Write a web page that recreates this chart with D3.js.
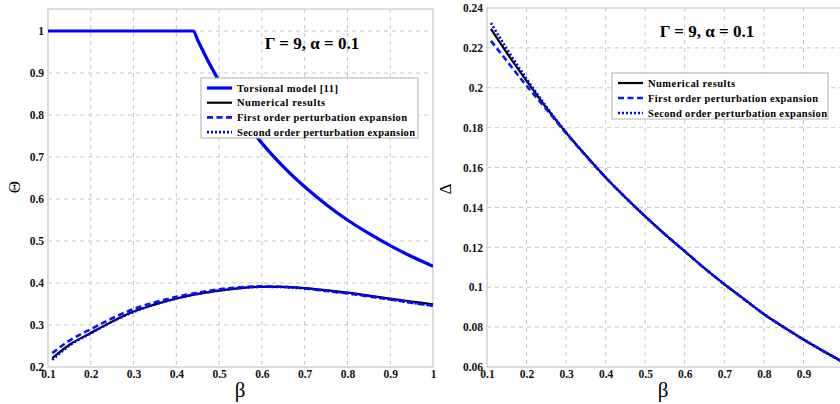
<!DOCTYPE html>
<html><head><meta charset="utf-8">
<script src="https://cdn.jsdelivr.net/npm/d3@7"></script>
<style>
body{margin:0;background:#fff;}
svg{display:block;}
</style></head>
<body><svg id="c" width="840" height="404"></svg>
<script>
// ---------- data ----------
const betaTors = [0.1, 0.2, 0.3, 0.4, 0.44, 0.45, 0.5, 0.55, 0.6, 0.65, 0.7, 0.75, 0.8, 0.85, 0.9, 0.95, 1.0];
const thetaTorsional = [1, 1, 1, 1, 1, 0.978, 0.88, 0.8, 0.733, 0.677, 0.629, 0.587, 0.55, 0.518, 0.489, 0.463, 0.44];

const beta = [0.11, 0.15, 0.2, 0.25, 0.3, 0.35, 0.4, 0.45, 0.5, 0.55, 0.6, 0.65, 0.7, 0.75, 0.8, 0.85, 0.9, 0.95, 1.0];
const thetaNumerical = [0.221, 0.253, 0.281, 0.308, 0.332, 0.349, 0.363, 0.374, 0.382, 0.388, 0.391, 0.391, 0.388, 0.383, 0.377, 0.370, 0.363, 0.356, 0.349];
const thetaFirst     = [0.233, 0.263, 0.290, 0.316, 0.338, 0.354, 0.367, 0.377, 0.385, 0.390, 0.392, 0.391, 0.387, 0.381, 0.375, 0.368, 0.361, 0.353, 0.346];
const thetaSecond    = [0.217, 0.251, 0.280, 0.308, 0.331, 0.349, 0.363, 0.374, 0.382, 0.388, 0.391, 0.390, 0.387, 0.382, 0.376, 0.369, 0.361, 0.353, 0.346];

const deltaNumerical = [0.2295, 0.2175, 0.2035, 0.1900, 0.1775, 0.1660, 0.1550, 0.1450, 0.1355, 0.1265, 0.1180, 0.1095, 0.1015, 0.0940, 0.0865, 0.0800, 0.0738, 0.0680, 0.0625];
const deltaFirst     = [0.2235, 0.2135, 0.2010, 0.1893, 0.1772, 0.1659, 0.1550, 0.1450, 0.1355, 0.1265, 0.1180, 0.1095, 0.1015, 0.0940, 0.0865, 0.0800, 0.0738, 0.0680, 0.0623];
const deltaSecond    = [0.2325, 0.2195, 0.2045, 0.1905, 0.1776, 0.1661, 0.1551, 0.1450, 0.1355, 0.1265, 0.1180, 0.1095, 0.1015, 0.0940, 0.0865, 0.0800, 0.0738, 0.0680, 0.0624];

const xTicks = [0.1, 0.2, 0.3, 0.4, 0.5, 0.6, 0.7, 0.8, 0.9, 1];
const xTicksRightShown = [0.1, 0.2, 0.3, 0.4, 0.5, 0.6, 0.7, 0.8, 0.9];
const thetaTicks = [0.2, 0.3, 0.4, 0.5, 0.6, 0.7, 0.8, 0.9, 1];
const deltaTicks = [0.06, 0.08, 0.1, 0.12, 0.14, 0.16, 0.18, 0.2, 0.22, 0.24];

const legendLeft = ["Torsional model [11]", "Numerical results", "First order perturbation expansion", "Second order perturbation expansion"];
const legendRight = ["Numerical results", "First order perturbation expansion", "Second order perturbation expansion"];
const annotation = "Γ = 9, α = 0.1";

// ---------- styles ----------
const styles = {
  torsional: {stroke:"#0000ff", width:3.2, dash:null},
  numerical: {stroke:"#000000", width:2.2, dash:null},
  first:     {stroke:"#0a14ff", width:2.6, dash:"6,3.5"},
  second:    {stroke:"#0000ff", width:2.6, dash:"2,2"}
};

const svg = d3.select("#c");
const serif = "Liberation Serif, Times New Roman, DejaVu Serif, serif";

function panel(cfg){
  const g = svg.append("g");
  const x = d3.scaleLinear().domain([0.1,1]).range([cfg.x0, cfg.x1]);
  const y = d3.scaleLinear().domain(cfg.yDomain).range([cfg.y0, cfg.y1]);
  const top = cfg.yTop;
  // grid
  const grid = g.append("g");
  xTicks.slice(1, -1).forEach(t => grid.append("line").attr("x1", x(t)).attr("x2", x(t)).attr("y1", top).attr("y2", cfg.y0));
  cfg.yTicks.forEach(t => { if (y(t) > top + 1 && y(t) < cfg.y0 - 1) grid.append("line").attr("x1", cfg.x0).attr("x2", cfg.x1).attr("y1", y(t)).attr("y2", y(t)); });
  grid.selectAll("line").attr("stroke", "#c4c4c4").attr("stroke-width", 1).attr("stroke-dasharray", "4,4");
  // frame
  g.append("rect").attr("x", cfg.x0).attr("y", top).attr("width", cfg.x1 - cfg.x0).attr("height", cfg.y0 - top)
    .attr("fill", "none").attr("stroke", "#d2d2d2").attr("stroke-width", 1.5);
  // axes
  const fmt = d => String(+d.toFixed(2));
  const ax = g.append("g").attr("transform", `translate(0,${cfg.y0})`)
    .call(d3.axisBottom(x).tickValues(cfg.xTicksShown).tickFormat(fmt).tickSize(0).tickPadding(3));
  ax.select(".domain").remove();
  const ay = g.append("g").attr("transform", `translate(${cfg.x0},0)`)
    .call(d3.axisLeft(y).tickValues(cfg.yTicks).tickFormat(fmt).tickSize(0).tickPadding(4));
  ay.select(".domain").remove();
  [ax, ay].forEach(a => a.attr("font-family", serif).attr("font-size", 11.5)
    .selectAll("text").attr("font-family", serif).attr("font-weight", "bold").attr("fill", "#111"));
  // clip
  const cid = "clip" + cfg.id;
  svg.append("clipPath").attr("id", cid).append("rect").attr("x", cfg.x0).attr("y", top).attr("width", cfg.x1 - cfg.x0).attr("height", cfg.y0 - top);
  const lines = g.append("g").attr("clip-path", `url(#${cid})`);
  cfg.series.forEach(s => {
    const st = styles[s.style];
    const line = d3.line().x((d, i) => x(s.xs[i])).y(d => y(d)).curve(d3.curveMonotoneX);
    lines.append("path").datum(s.ys).attr("d", line).attr("fill", "none")
      .attr("stroke", st.stroke).attr("stroke-width", st.width).attr("stroke-dasharray", st.dash)
      .attr("stroke-linejoin", "round");
  });
  // axis titles
  g.append("text").attr("x", cfg.xlabX).attr("y", 397).attr("text-anchor", "middle")
    .attr("font-family", serif).attr("font-size", 21).text("β");
  g.append("text").attr("transform", `translate(${cfg.ylabX},${cfg.ylabY}) rotate(-90)`).attr("text-anchor", "middle")
    .attr("font-family", serif).attr("font-size", 17).text(cfg.ylab);
  // annotation
  g.append("text").attr("x", cfg.annX).attr("y", cfg.annY).attr("text-anchor", "middle")
    .attr("font-family", serif).attr("font-weight", "bold").attr("font-size", 17).text(annotation);
  // legend
  const L = cfg.legend;
  const lg = g.append("g");
  lg.append("rect").attr("x", L.x).attr("y", L.y).attr("width", L.w).attr("height", L.h)
    .attr("fill", "#fff").attr("stroke", "#b0b0b0").attr("stroke-width", 1);
  L.items.forEach((name, i) => {
    const st = styles[L.styles[i]];
    const yy = L.y + L.first + i * L.step;
    lg.append("line").attr("x1", L.x + 6).attr("x2", L.x + 31).attr("y1", yy).attr("y2", yy)
      .attr("stroke", st.stroke).attr("stroke-width", st.width).attr("stroke-dasharray", st.dash);
    lg.append("text").attr("x", L.x + 36).attr("y", yy + 3.5)
      .attr("font-family", serif).attr("font-weight", "bold").attr("font-size", 10.5)
      .attr("textLength", L.widths[i]).attr("lengthAdjust", "spacing").text(name);
  });
}

panel({
  id: "L", x0: 48, x1: 433, y0: 367, y1: 31, yDomain: [0.2, 1.0], yTop: 9, yTicks: thetaTicks, xTicksShown: xTicks,
  ylab: "Θ", ylabX: 20, ylabY: 187, xlabX: 240, annX: 312, annY: 49,
  series: [
    {xs: betaTors, ys: thetaTorsional, style: "torsional"},
    {xs: beta, ys: thetaNumerical, style: "numerical"},
    {xs: beta, ys: thetaFirst, style: "first"},
    {xs: beta, ys: thetaSecond, style: "second"}
  ],
  legend: {x: 201, y: 78, w: 217, h: 60, first: 10, step: 14.7, items: legendLeft,
    styles: ["torsional", "numerical", "first", "second"], widths: [101, 88, 170, 178]}
});

panel({
  id: "R", x0: 487, x1: 843, y0: 367, y1: 8, yDomain: [0.06, 0.24], yTop: 8, yTicks: deltaTicks, xTicksShown: xTicksRightShown,
  ylab: "Δ", ylabX: 451, ylabY: 189, xlabX: 663, annX: 707, annY: 37,
  series: [
    {xs: beta, ys: deltaNumerical, style: "numerical"},
    {xs: beta, ys: deltaFirst, style: "first"},
    {xs: beta, ys: deltaSecond, style: "second"}
  ],
  legend: {x: 612, y: 73, w: 216, h: 46, first: 10, step: 15, items: legendRight,
    styles: ["numerical", "first", "second"], widths: [87, 170, 179]}
});
</script></body></html>
